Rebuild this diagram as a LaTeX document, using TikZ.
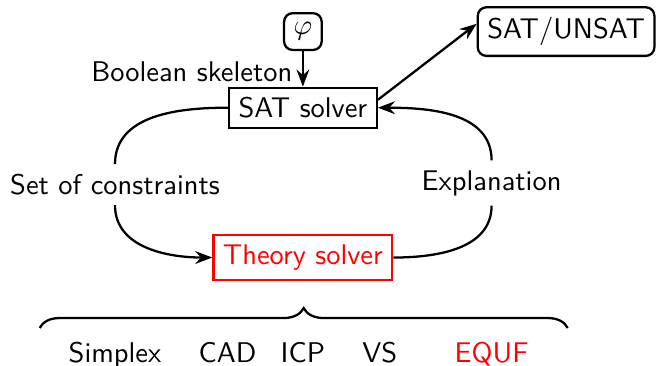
\documentclass[tikz,border=0pt]{standalone}
\usepackage{amsmath,amssymb}
\usepackage{xcolor}
\usepackage{tikz}
\usetikzlibrary{arrows.meta,positioning,decorations.pathreplacing}

\begin{document}
\begin{tikzpicture}[
  every node/.style={font=\sffamily},
  solver/.style={draw, thick, minimum height=0.49cm},
  rbox/.style={draw, thick, rounded corners=3pt},
  arr/.style={-{Stealth[length=6pt, inset=2pt]}, thick},
  item/.style={anchor=base}
]
  \useasboundingbox (-3.74,1.33) rectangle (4.36,-3.18);

  \node[solver] (sat) at (0,0) {SAT solver};
  \node[rbox, minimum height=0.44cm] (phi) at (0,0.94) {$\varphi$};
  \node[rbox, minimum height=0.6cm] (res) at (3.25,0.94) {SAT/UNSAT};
  \node[solver, draw=red, text=red, minimum height=0.52cm] (theory) at (0,-1.85) {Theory solver};
  \node (cons) at (-2.32,-0.95) {Set of constraints};
  \node (expl) at (2.33,-0.93) {Explanation};

  \draw[arr] (phi) -- node[left, yshift=-1pt] {Boolean skeleton} (sat);
  \draw[arr] (sat.6) -- (res.175);
  \draw[arr] (sat.west) to[out=180,in=90] (cons) to[out=-90,in=180] (theory.west);
  \draw[arr] (theory.east) to[out=0,in=-90] (expl) to[out=90,in=0] (sat.east);

  \coordinate (bl) at (-3.25,-2.72);
  \coordinate (br) at (3.27,-2.72);
  \draw[thick, decorate, decoration={brace, amplitude=7pt}] (bl) -- (br);

  \node[item] (simplex) at (-2.32,-3.14) {Simplex};
  \node[item] (cad) at (-0.93,-3.14) {CAD};
  \node[item] (icp) at (0,-3.14) {ICP};
  \node[item] (vs) at (0.95,-3.14) {VS};
  \node[item, text=red] (equf) at (2.33,-3.14) {EQUF};
\end{tikzpicture}
\end{document}
